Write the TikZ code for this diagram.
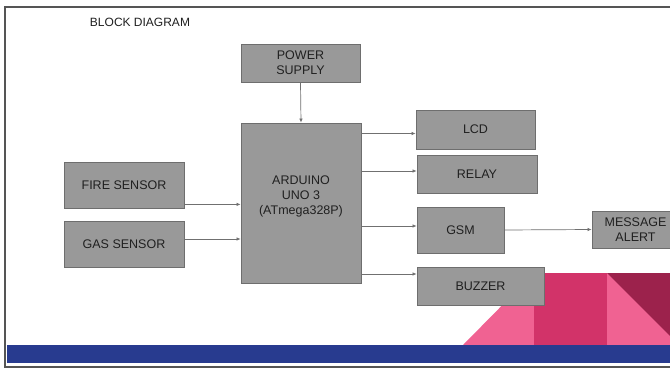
\documentclass[tikz,border=0pt]{standalone}
\usepackage{fontspec}
\setmainfont{Liberation Sans}
\usetikzlibrary{arrows.meta}
\definecolor{boxgray}{HTML}{999999}
\definecolor{edgegray}{HTML}{6E6E6E}
\definecolor{linegray}{HTML}{707070}
\definecolor{textdark}{HTML}{202020}
\definecolor{framegray}{HTML}{555555}
\definecolor{pinklight}{HTML}{F06292}
\definecolor{pinkmid}{HTML}{D23369}
\definecolor{maroon}{HTML}{9C224C}
\definecolor{bandblue}{HTML}{283B8F}
\begin{document}
\begin{tikzpicture}[x=1pt,y=-1pt,
  block/.style={draw=edgegray,fill=boxgray,line width=0.8pt,align=center,
    inner sep=0pt,text=textdark,font=\fontsize{12.5}{15}\selectfont},
  link/.style={-{Latex[length=4pt,width=3.5pt]},draw=linegray,line width=0.7pt}]
  \clip (0,0) rectangle (670,370);
  \fill[white] (0,0) rectangle (670,370);
  % footer decoration
  \fill[pinklight] (463,345) -- (534,273) -- (534,345) -- cycle;
  \fill[pinkmid] (534,273) rectangle (607,345);
  \fill[pinklight] (607,273) rectangle (672,345);
  \fill[maroon] (607,273) -- (672,273) -- (672,338) -- cycle;
  \fill[bandblue] (7,345) rectangle (672,363);
  \draw[framegray,line width=1.4pt] (5,7) rectangle (675,367);

  \node[text=textdark,font=\fontsize{12}{14}\selectfont] (title) at (140,22) {BLOCK DIAGRAM};

  \node[block,minimum width=119pt,minimum height=38pt] (power) at (300.5,63) {POWER\\SUPPLY};
  \node[block,minimum width=120pt,minimum height=160pt] (arduino) at (301,203) {ARDUINO\\UNO 3\\(ATmega328P)\\\mbox{}};
  \node[block,minimum width=120pt,minimum height=46pt] (fire) at (124,185) {FIRE SENSOR};
  \node[block,minimum width=120pt,minimum height=46pt] (gas) at (124,244) {GAS SENSOR};
  \node[block,minimum width=119pt,minimum height=39pt] (lcd) at (475.5,129.5) {LCD};
  \node[block,minimum width=120pt,minimum height=38pt] (relay) at (477,174) {RELAY};
  \node[block,minimum width=87pt,minimum height=46pt] (gsm) at (460.5,230) {GSM};
  \node[block,minimum width=127pt,minimum height=38pt] (buzzer) at (480.5,286) {BUZZER};
  \node[block,minimum width=87pt,minimum height=37pt] (msg) at (635.5,229.5) {MESSAGE\\ALERT};

  \draw[link] (power.south) -- (arduino.north);
  \path ([yshift=4pt]fire.south east) coordinate (f1);
  \draw[link] (f1) -- (f1 -| arduino.west);
  \path ([yshift=5pt]gas.east) coordinate (g1);
  \draw[link] (g1) -- (g1 -| arduino.west);
  \path ([yshift=-4pt]lcd.west) coordinate (l1);
  \draw[link] (l1 -| arduino.east) -- (l1);
  \path ([yshift=3pt]relay.west) coordinate (r1);
  \draw[link] (r1 -| arduino.east) -- (r1);
  \path ([yshift=4pt]gsm.west) coordinate (s1);
  \draw[link] (s1 -| arduino.east) -- (s1);
  \path ([yshift=12pt]buzzer.west) coordinate (b1);
  \draw[link] (b1 -| arduino.east) -- (b1);
  \draw[link] (gsm.east) -- (msg.west);
\end{tikzpicture}
\end{document}
